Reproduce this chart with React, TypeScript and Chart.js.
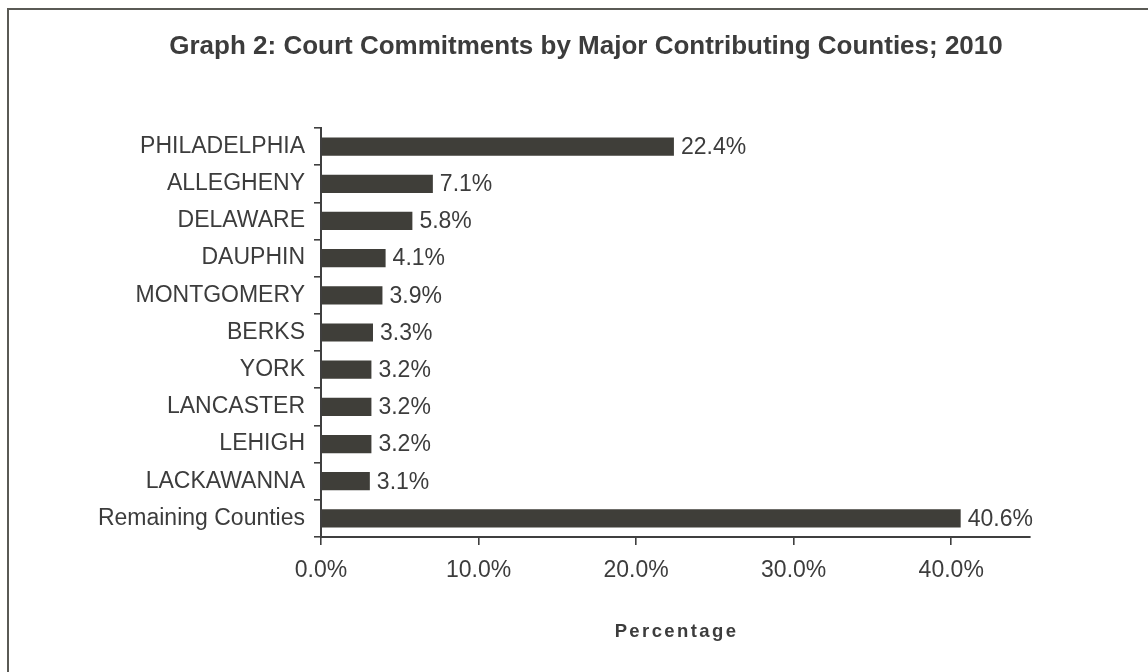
import React, { useEffect, useRef } from "react";
import { Chart, registerables } from "chart.js";

Chart.register(...registerables);

const categories: string[] = [
  "PHILADELPHIA",
  "ALLEGHENY",
  "DELAWARE",
  "DAUPHIN",
  "MONTGOMERY",
  "BERKS",
  "YORK",
  "LANCASTER",
  "LEHIGH",
  "LACKAWANNA",
  "Remaining Counties",
];

const percentages: number[] = [22.4, 7.1, 5.8, 4.1, 3.9, 3.3, 3.2, 3.2, 3.2, 3.1, 40.6];

const xTickValues: number[] = [0, 10, 20, 30, 40];

const titleText = "Graph 2: Court Commitments by Major Contributing Counties; 2010";
const xAxisTitle = "Percentage";

const FONT = '"Liberation Sans", Arial, Helvetica, sans-serif';
const TEXT = "#3c3c3c";
const BAR = "#3f3e39";
const AXIS = "#3f3f3f";

export default function App() {
  const canvasRef = useRef<HTMLCanvasElement | null>(null);

  useEffect(() => {
    if (!canvasRef.current) return;

    const textPlugin = {
      id: "customText",
      afterDraw(chart: any) {
        const ctx = chart.ctx as CanvasRenderingContext2D;
        const area = chart.chartArea;
        // data labels
        ctx.save();
        ctx.font = `23px ${FONT}`;
        ctx.fillStyle = TEXT;
        ctx.textAlign = "left";
        ctx.textBaseline = "middle";
        const meta = chart.getDatasetMeta(0);
        meta.data.forEach((bar: any, i: number) => {
          const v = percentages[i];
          ctx.fillText(v.toFixed(1) + "%", bar.x + 7, bar.y + 1);
        });
        ctx.restore();

        // title
        ctx.save();
        ctx.font = `bold 26px ${FONT}`;
        ctx.fillStyle = TEXT;
        ctx.textAlign = "center";
        ctx.textBaseline = "alphabetic";
        ctx.fillText(titleText, 586, 54);
        ctx.restore();

        // x axis title
        ctx.save();
        ctx.font = `bold 18.5px ${FONT}`;
        ctx.fillStyle = TEXT;
        (ctx as any).letterSpacing = "2.4px";
        ctx.textAlign = "center";
        ctx.textBaseline = "alphabetic";
        ctx.fillText(xAxisTitle, (area.left + area.right) / 2 + 1, 637);
        ctx.restore();
      },
    };

    const chart = new Chart(canvasRef.current, {
      type: "bar",
      data: {
        labels: categories,
        datasets: [
          {
            data: percentages,
            backgroundColor: BAR,
            borderWidth: 0,
            barPercentage: 0.49,
            categoryPercentage: 1,
          },
        ],
      },
      options: {
        indexAxis: "y",
        animation: false,
        responsive: true,
        maintainAspectRatio: false,
        devicePixelRatio: 1,
        layout: { padding: { left: 0, right: 118, top: 128, bottom: 0 } },
        plugins: {
          legend: { display: false },
          title: { display: false },
          tooltip: { enabled: false },
        },
        scales: {
          x: {
            type: "linear",
            min: 0,
            max: 45,
            afterBuildTicks: (scale: any) => {
              scale.ticks = xTickValues.map((v) => ({ value: v }));
            },
            afterFit: (scale: any) => {
              scale.height = 135;
            },
            ticks: {
              font: { family: FONT, size: 23 },
              color: TEXT,
              padding: 12,
              maxRotation: 0,
              callback: (v: any) => Number(v).toFixed(1) + "%",
            },
            grid: {
              drawOnChartArea: false,
              drawTicks: true,
              tickLength: 8,
              color: AXIS,
              lineWidth: 1.6,
            },
            border: { display: true, color: AXIS, width: 2 },
          },
          y: {
            type: "category",
            afterFit: (scale: any) => {
              scale.width = 321;
            },
            ticks: {
              font: { family: FONT, size: 23 },
              color: TEXT,
              padding: 9,
            },
            grid: {
              offset: true,
              drawOnChartArea: false,
              drawTicks: true,
              tickLength: 7,
              color: AXIS,
              lineWidth: 1.6,
            },
            border: { display: true, color: AXIS, width: 2 },
          },
        },
      },
      plugins: [textPlugin],
    });

    return () => chart.destroy();
  }, []);

  return (
    <div
      style={{
        position: "fixed",
        left: 0,
        top: 0,
        width: 1148,
        height: 672,
        overflow: "hidden",
        background: "#ffffff",
      }}
    >
      <div
        style={{
          position: "absolute",
          left: 7,
          top: 8,
          width: 1200,
          height: 700,
          borderLeft: "2px solid #5a5a55",
          borderTop: "2px solid #5a5a55",
          boxSizing: "border-box",
        }}
      />
      <div style={{ position: "absolute", left: 0, top: 0, width: 1148, height: 672 }}>
        <canvas ref={canvasRef} />
      </div>
    </div>
  );
}
